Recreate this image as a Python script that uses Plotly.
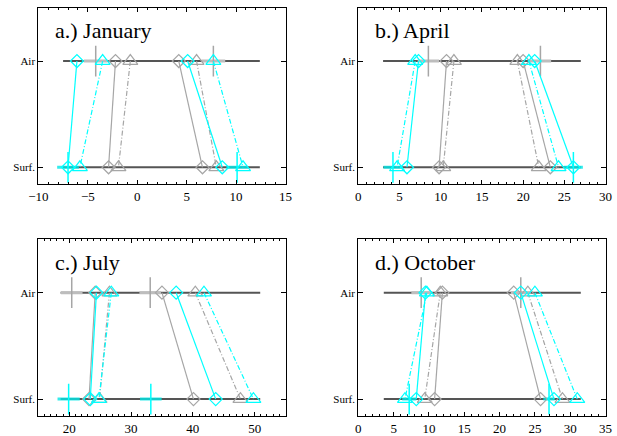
import plotly.graph_objects as go

titles = ["a.) January", "b.) April", "c.) July", "d.) October"]
x_ranges = [[-10, 15], [0, 30], [15, 55], [0, 35]]
x_dticks = [5, 5, 10, 5]
row_vals = [0, 1]
row_labels = ["Surf.", "Air"]

# [low group, high group] for each month
gray_diamond_air = [[-2.2, 4.2], [10.7, 20.0], [24.2, 35.0], [11.9, 22.0]]
gray_diamond_surf = [[-2.9, 6.6], [9.8, 23.3], [23.2, 40.1], [10.8, 25.8]]
gray_triangle_air = [[-0.7, 6.0], [11.6, 19.3], [26.5, 40.4], [11.6, 24.0]]
gray_triangle_surf = [[-1.9, 8.0], [10.3, 21.9], [24.9, 47.7], [9.4, 28.9]]
cyan_diamond_air = [[-6.1, 5.1], [7.3, 21.4], [24.4, 37.3], [9.5, 23.0]]
cyan_diamond_surf = [[-7.0, 8.6], [5.9, 26.1], [23.4, 43.7], [8.2, 27.7]]
cyan_triangle_air = [[-3.5, 7.7], [6.9, 20.7], [26.8, 41.8], [9.7, 25.0]]
cyan_triangle_surf = [[-5.8, 10.7], [4.7, 24.3], [24.8, 49.8], [6.6, 31.0]]

air_mean = [[-4.2, 7.7], [8.5, 22.1], [20.4, 33.1], [8.9, 23.0]]
air_spread = [[1.2, 1.2], [1.3, 1.3], [1.75, 1.75], [1.4, 1.4]]
surf_mean = [[-7.0, 10.1], [4.2, 26.1], [19.9, 33.2], [7.2, 27.0]]
surf_spread = [[1.1, 1.1], [1.15, 1.15], [1.8, 1.75], [1.0, 0.8]]

level_line = [[-7.5, 12.4], [3.0, 27.0], [18.6, 50.9], [3.6, 31.5]]

GRAY = "#a6a6a6"
CYAN = "#00ffff"
DARK = "#555555"
SERIF = "Liberation Serif, Times New Roman, serif"
DASHDOT = "5px,2px,1px,2px"

W, H = 617, 436
# panel frames in pixels: (left, right, top, bottom)
frames = [(29, 283, 8, 186), (357.5, 611.5, 8, 186),
          (29, 283, 241.7, 420), (357.5, 611.5, 241.7, 420)]

fig = go.Figure()

for i in range(4):
    xa = "x" if i == 0 else f"x{i+1}"
    ya = "y" if i == 0 else f"y{i+1}"
    # level lines
    for lvl in row_vals:
        fig.add_trace(go.Scatter(x=level_line[i], y=[lvl, lvl], mode="lines",
                                 line=dict(color=DARK, width=2),
                                 xaxis=xa, yaxis=ya, showlegend=False, hoverinfo="skip"))
    # mean +/- spread marks
    fig.add_trace(go.Scatter(x=air_mean[i], y=[1, 1], mode="markers",
                             marker=dict(symbol="line-ns", size=22, color=GRAY,
                                         line=dict(color=GRAY, width=1.5)),
                             error_x=dict(type="data", array=air_spread[i], color="#bdbdbd",
                                          thickness=3, width=0),
                             xaxis=xa, yaxis=ya, showlegend=False))
    fig.add_trace(go.Scatter(x=surf_mean[i], y=[0, 0], mode="markers",
                             marker=dict(symbol="line-ns", size=22, color=CYAN,
                                         line=dict(color=CYAN, width=1.5)),
                             error_x=dict(type="data", array=surf_spread[i],
                                          color="rgba(0,230,230,0.8)", thickness=3, width=0),
                             xaxis=xa, yaxis=ya, showlegend=False))
    series = [
        (gray_diamond_air, gray_diamond_surf, GRAY, "diamond-open", "solid", 10),
        (gray_triangle_air, gray_triangle_surf, GRAY, "triangle-up-open", DASHDOT, 13),
        (cyan_diamond_air, cyan_diamond_surf, CYAN, "diamond-open", "solid", 10),
        (cyan_triangle_air, cyan_triangle_surf, CYAN, "triangle-up-open", DASHDOT, 13),
    ]
    for air, surf, col, sym, dash, sz in series:
        for g in range(2):
            fig.add_trace(go.Scatter(x=[air[i][g], surf[i][g]], y=[1, 0],
                                     mode="lines+markers",
                                     line=dict(color=col, width=1.2, dash=dash),
                                     marker=dict(symbol=sym, size=sz, color=col,
                                                 line=dict(color=col, width=1.2)),
                                     xaxis=xa, yaxis=ya, showlegend=False))

    l, r, t, b = frames[i]
    xr = x_ranges[i]
    eps = (xr[1] - xr[0]) * 0.0005
    axis_common = dict(showline=True, linecolor="black", linewidth=1, mirror="ticks",
                       ticks="inside", tickcolor="black", showgrid=False, zeroline=False)
    fig.layout[f"xaxis{'' if i == 0 else i+1}"] = dict(
        domain=[l / W, r / W], anchor=ya, range=[xr[0] - eps, xr[1] + eps],
        dtick=x_dticks[i], tick0=0, ticklen=4,
        tickfont=dict(family=SERIF, size=13, color="black"),
        minor=dict(ticks="inside", ticklen=2, dtick=1, tickcolor="black"),
        **axis_common)
    fig.layout[f"yaxis{'' if i == 0 else i+1}"] = dict(
        domain=[1 - b / H, 1 - t / H], anchor=xa, range=[-0.16, 1.5],
        tickvals=row_vals, ticktext=row_labels, ticklen=5,
        tickfont=dict(family=SERIF, size=11, color="black"), **axis_common)
    fig.add_annotation(text=titles[i], xref="paper", yref="paper",
                       x=(l + 15) / W, y=1 - (t + 23) / H, xanchor="left", yanchor="middle",
                       showarrow=False, font=dict(family=SERIF, size=22, color="black"))

fig.update_layout(width=W, height=H, margin=dict(l=0, r=0, t=0, b=0),
                  plot_bgcolor="white", paper_bgcolor="white", showlegend=False)

fig.write_html("out.html")
